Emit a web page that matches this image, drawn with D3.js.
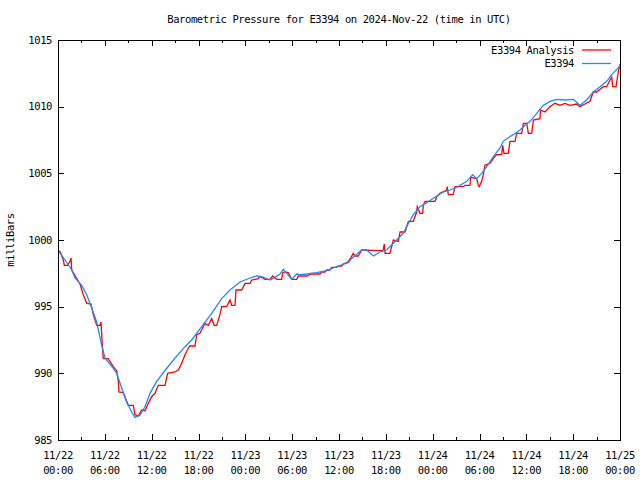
<!DOCTYPE html>
<html>
<head>
<meta charset="utf-8">
<script src="https://cdn.jsdelivr.net/npm/d3@7"></script>
<style>
  body { margin: 0; background: #fff; }
  text { font-family: "DejaVu Sans Mono", monospace; font-size: 10.5px; letter-spacing: -0.4px; fill: #000; }
</style>
</head>
<body>
<div class="chart"></div>
<script>
// hours after 2024-11-22 00:00 UTC, pressure in mb
const analysisHours = [0, 0.29, 0.68, 0.81, 1.24, 1.54, 1.67, 1.76, 2.82, 3.24, 3.68, 4.23, 4.52, 4.96, 5.38, 5.51, 5.68, 5.8, 6.44, 7.08, 7.52, 7.73, 7.81, 8.37, 9.0, 9.65, 9.86, 10.29, 10.72, 11.15, 11.57, 12.0, 12.43, 12.85, 13.71, 14.05, 14.99, 15.41, 15.85, 16.27, 16.69, 16.91, 17.55, 17.77, 18.19, 18.83, 19.26, 19.69, 20.02, 20.33, 20.75, 20.97, 21.61, 22.04, 22.25, 22.68, 22.8, 23.53, 23.96, 24.6, 24.82, 25.66, 25.79, 26.1, 26.52, 27.16, 27.5, 28.02, 28.66, 28.79, 29.08, 29.5, 29.72, 29.94, 30.58, 30.79, 31.86, 32.5, 33.57, 33.78, 34.2, 34.42, 34.85, 35.06, 35.7, 35.91, 36.35, 36.55, 37.15, 37.54, 37.83, 38.05, 38.47, 38.9, 41.03, 41.64, 41.8, 41.9, 42.53, 42.96, 43.6, 43.82, 44.46, 44.88, 45.52, 45.95, 46.03, 46.38, 46.72, 46.8, 47.02, 48.3, 48.52, 48.94, 49.8, 49.87, 50.0, 50.64, 50.86, 51.92, 52.14, 52.78, 52.87, 53.64, 53.85, 53.97, 54.28, 54.49, 54.7, 55.34, 55.77, 56.2, 56.84, 56.97, 57.14, 57.69, 57.91, 58.55, 58.77, 59.41, 59.62, 60.05, 60.26, 60.69, 60.9, 61.75, 61.82, 62.39, 63.03, 63.67, 64.31, 64.95, 65.59, 66.45, 66.87, 67.51, 68.15, 68.58, 69.01, 69.65, 69.86, 70.3, 70.72, 70.94, 71.07, 71.49, 71.78, 72]
const analysisValues = [999.25, 999.1, 998.5, 998.1, 998.1, 998.4, 998.65, 997.75, 996.7, 995.9, 995.25, 995.2, 994.4, 993.6, 993.6, 993.85, 992.1, 991.1, 991.1, 990.5, 990.2, 989.4, 988.6, 988.55, 987.6, 987.6, 986.9, 986.8, 987.25, 987.2, 987.75, 988.25, 988.5, 989.1, 989.1, 990.0, 990.1, 990.25, 990.75, 991.4, 991.9, 992.05, 992.05, 992.9, 993.0, 993.75, 993.6, 994.1, 993.6, 993.6, 994.4, 995.0, 995.0, 995.5, 995.1, 995.1, 996.25, 996.25, 996.75, 996.75, 997.0, 997.1, 997.25, 997.2, 997.05, 997.05, 997.3, 997.05, 997.05, 997.55, 997.6, 997.55, 997.3, 997.05, 997.05, 997.3, 997.3, 997.45, 997.45, 997.6, 997.6, 997.75, 997.75, 997.95, 997.95, 998.05, 998.05, 998.2, 998.35, 998.7, 999.0, 998.8, 998.8, 999.25, 999.2, 999.2, 999.7, 999.0, 999.0, 1000.0, 999.9, 1000.6, 1000.6, 1001.4, 1001.4, 1002.1, 1002.5, 1002.0, 1002.0, 1002.6, 1002.9, 1002.9, 1003.25, 1003.5, 1003.75, 1004.0, 1003.4, 1003.4, 1004.0, 1004.0, 1004.1, 1004.1, 1004.7, 1004.6, 1004.1, 1004.0, 1004.4, 1004.9, 1005.6, 1005.75, 1006.1, 1006.4, 1006.4, 1007.1, 1006.5, 1006.5, 1007.4, 1007.4, 1008.0, 1008.0, 1008.75, 1008.75, 1008.0, 1008.0, 1009.0, 1009.1, 1009.75, 1009.6, 1010.0, 1010.25, 1010.1, 1010.25, 1010.1, 1010.2, 1010.0, 1010.2, 1010.4, 1011.1, 1011.1, 1011.4, 1011.5, 1011.5, 1012.0, 1012.2, 1011.5, 1011.5, 1012.6, 1013.2]

const stationHours = [0, 0.29, 0.9, 1.76, 2.18, 3.04, 3.68, 4.32, 4.96, 5.6, 6.02, 7.05, 7.52, 8.16, 8.8, 9.44, 9.86, 10.5, 11.15, 11.79, 12.64, 13.75, 15.0, 16.28, 17.13, 18.41, 19.69, 20.97, 22.04, 23.32, 24.6, 25.46, 26.1, 27.16, 27.8, 28.44, 28.86, 29.3, 29.94, 30.58, 31.0, 31.86, 33.14, 34.42, 35.91, 37.19, 37.6, 38.9, 39.55, 40.4, 41.25, 42.1, 42.96, 44.24, 44.67, 45.52, 46.38, 47.24, 48.52, 49.36, 50.22, 51.08, 52.36, 53.13, 53.64, 54.28, 54.92, 55.77, 56.63, 57.05, 57.48, 58.33, 59.19, 59.83, 60.47, 61.33, 62.17, 63.03, 63.89, 64.95, 66.02, 66.87, 67.73, 68.58, 69.44, 70.3, 70.94, 71.91, 72]
const stationValues = [999.18, 999.0, 998.5, 997.75, 997.15, 996.6, 995.9, 994.9, 993.85, 992.1, 991.15, 990.4, 990.0, 988.9, 987.85, 987.1, 986.7, 986.85, 987.5, 988.5, 989.4, 990.25, 991.15, 992.0, 992.5, 993.5, 994.5, 995.6, 996.25, 996.85, 997.15, 997.3, 997.25, 997.0, 997.2, 997.45, 997.8, 997.5, 997.05, 997.45, 997.4, 997.45, 997.55, 997.7, 998.05, 998.3, 998.6, 999.25, 999.25, 998.8, 999.1, 999.25, 999.75, 1000.5, 1001.0, 1001.9, 1002.5, 1002.8, 1003.3, 1003.6, 1003.75, 1003.95, 1004.4, 1004.9, 1004.6, 1005.0, 1005.5, 1006.25, 1006.9, 1007.4, 1007.6, 1007.9, 1008.25, 1008.6, 1008.9, 1009.5, 1010.1, 1010.4, 1010.55, 1010.5, 1010.55, 1010.1, 1010.5, 1011.1, 1011.5, 1011.9, 1012.4, 1013.0, 1013.2]

const yTicks = [985, 990, 995, 1000, 1005, 1010, 1015]
const seriesNames = ["E3394 Analysis", "E3394"]
const seriesColors = ["#ff0000", "#1a8cff"]

const start = Date.UTC(2024, 10, 22)
const toDate = h => new Date(start + h * 3600e3)

const analysis = analysisHours.map((h, i) => ({t: toDate(h), v: analysisValues[i]}))
const station = stationHours.map((h, i) => ({t: toDate(h), v: stationValues[i]}))

const W = 640, H = 480
const margin = {top: 40, right: 20, bottom: 40, left: 58}
const width = W - margin.left - margin.right
const height = H - margin.top - margin.bottom

const svg = d3.select(".chart").append("svg")
    .attr("width", W)
    .attr("height", H)

const g = svg.append("g")
    .attr("transform", `translate(${margin.left},${margin.top})`)

const x = d3.scaleUtc()
    .domain([toDate(0), toDate(72)])
    .range([0, width])

const y = d3.scaleLinear()
    .domain([985, 1015])
    .range([height, 0])

const majorX = d3.utcHour.every(6).range(toDate(0), toDate(72.1))
const minorX = d3.utcHour.every(3).range(toDate(0), toDate(72.1))

// ticks on all four sides, pointing inward
const tickG = g.append("g").attr("stroke", "#000").attr("stroke-width", 1)
minorX.forEach(d => {
    const px = Math.round(x(d)) + 0.5
    const len = majorX.some(m => +m === +d) ? 6 : 3
    tickG.append("line").attr("x1", px).attr("x2", px).attr("y1", height).attr("y2", height - len)
    tickG.append("line").attr("x1", px).attr("x2", px).attr("y1", 0).attr("y2", len)
})
yTicks.forEach(v => {
    const py = Math.round(y(v)) + 0.5
    tickG.append("line").attr("x1", 0).attr("x2", 6).attr("y1", py).attr("y2", py)
    tickG.append("line").attr("x1", width).attr("x2", width - 6).attr("y1", py).attr("y2", py)
})

// tick labels
g.selectAll(".ylab")
    .data(yTicks)
    .join("text")
        .attr("class", "ylab")
        .attr("x", -6)
        .attr("y", d => y(d))
        .attr("dy", "0.35em")
        .attr("text-anchor", "end")
        .text(d => d)

const fmtDay = d3.utcFormat("%m/%d")
const fmtTime = d3.utcFormat("%H:%M")
const xl = g.selectAll(".xlab")
    .data(majorX)
    .join("text")
        .attr("class", "xlab")
        .attr("text-anchor", "middle")
        .attr("transform", d => `translate(${x(d)},${height})`)
xl.append("tspan").attr("x", 0).attr("y", 19).text(fmtDay)
xl.append("tspan").attr("x", 0).attr("y", 34).text(fmtTime)

// lines
const line = d3.line()
    .x(d => x(d.t))
    .y(d => y(d.v))

g.append("path")
    .datum(analysis)
    .attr("fill", "none")
    .attr("stroke", seriesColors[0])
    .attr("stroke-width", 1.3)
    .attr("d", line)

g.append("path")
    .datum(station)
    .attr("fill", "none")
    .attr("stroke", seriesColors[1])
    .attr("stroke-width", 1.3)
    .attr("d", line)

// frame
g.append("rect")
    .attr("x", 0.5).attr("y", 0.5)
    .attr("width", width).attr("height", height)
    .attr("fill", "none")
    .attr("stroke", "#000")

// legend
seriesNames.forEach((name, i) => {
    const ly = 10 + i * 13.5
    g.append("text")
        .attr("x", width - 46)
        .attr("y", ly)
        .attr("dy", "0.35em")
        .attr("text-anchor", "end")
        .text(name)
    g.append("line")
        .attr("x1", width - 38).attr("x2", width - 9)
        .attr("y1", ly).attr("y2", ly)
        .attr("stroke", seriesColors[i])
        .attr("stroke-width", 1.3)
})

// title and axis label
svg.append("text")
    .attr("x", margin.left + width / 2)
    .attr("y", 23)
    .attr("text-anchor", "middle")
    .text("Barometric Pressure for E3394 on 2024-Nov-22 (time in UTC)")

svg.append("text")
    .attr("transform", `translate(14,${margin.top + height / 2}) rotate(-90)`)
    .attr("text-anchor", "middle")
    .text("milliBars")
</script>
</body>
</html>
